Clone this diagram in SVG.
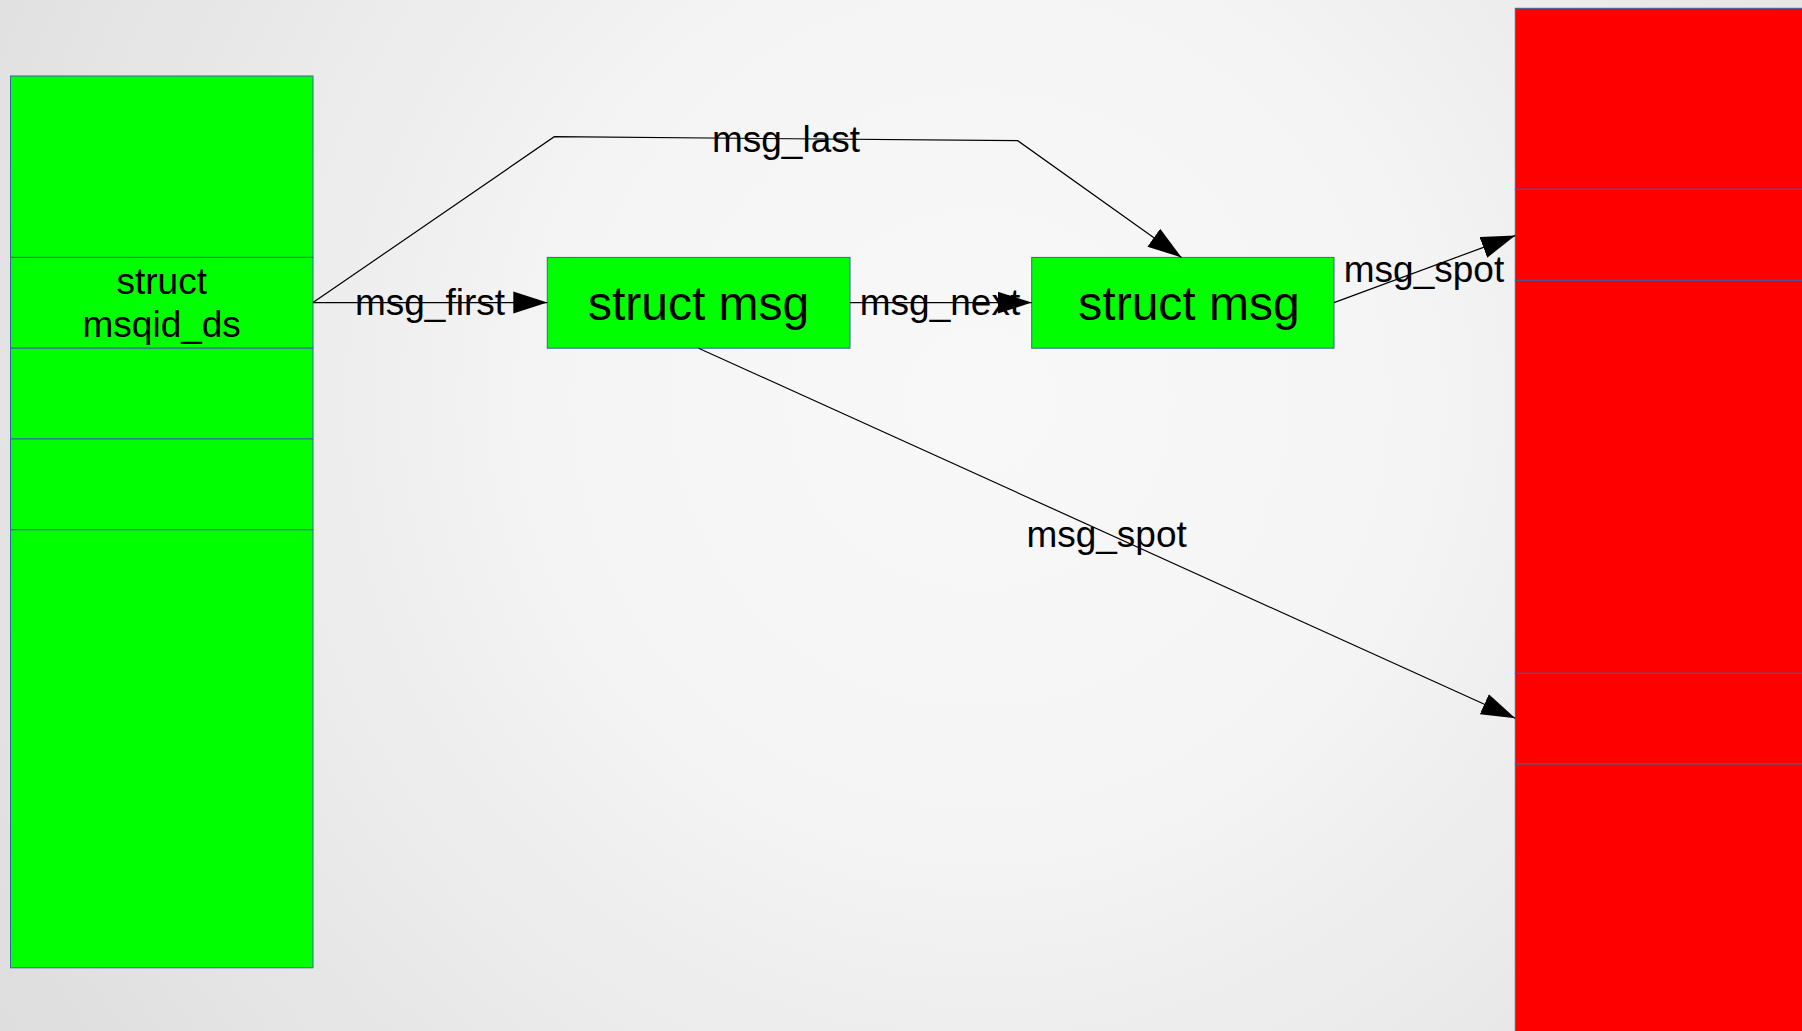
<svg xmlns="http://www.w3.org/2000/svg" width="1802" height="1031" viewBox="0 0 1802 1031">
  <defs>
    <radialGradient id="bg" gradientUnits="userSpaceOnUse" cx="980" cy="400" r="1150">
      <stop offset="0" stop-color="#f8f8f8"/>
      <stop offset="0.35" stop-color="#f5f5f5"/>
      <stop offset="1" stop-color="#dedede"/>
    </radialGradient>
    <marker id="arrow" markerUnits="userSpaceOnUse" markerWidth="35" markerHeight="23" refX="34" refY="11" orient="auto" viewBox="0 0 35 22">
      <path d="M0,0 L34,11 L0,22 z" fill="#000"/>
    </marker>
    <style>
      .cell { stroke: #3465a4; stroke-width: 1; }
      .green { fill: #00ff00; }
      .red { fill: #ff0000; }
      .conn { fill: none; stroke: #000; stroke-width: 1.2; }
      .lbl { font-family: "Liberation Sans", Arial, sans-serif; font-size: 37px; fill: #000; text-anchor: middle; }
      .big { font-family: "Liberation Sans", Arial, sans-serif; font-size: 48px; fill: #000; text-anchor: middle; }
    </style>
  </defs>
  <rect x="0" y="0" width="1802" height="1031" fill="url(#bg)"/>

  <g id="msqid_ds">
    <rect class="cell green" x="10.5" y="76" width="302.5" height="181.4"/>
    <rect class="cell green" x="10.5" y="257.4" width="302.5" height="90.8"/>
    <rect class="cell green" x="10.5" y="348.2" width="302.5" height="90.8"/>
    <rect class="cell green" x="10.5" y="439" width="302.5" height="90.8"/>
    <rect class="cell green" x="10.5" y="529.8" width="302.5" height="438"/>
    <text class="lbl" x="161.7" y="294.3">struct</text>
    <text class="lbl" x="161.7" y="336.7">msqid_ds</text>
  </g>

  <g id="msg1">
    <rect class="cell green" x="547.3" y="257.4" width="302.7" height="90.8"/>
    <text class="big" x="698.6" y="320">struct msg</text>
  </g>

  <g id="msg2">
    <rect class="cell green" x="1031.7" y="257.4" width="302.3" height="90.8"/>
    <text class="big" x="1189" y="320">struct msg</text>
  </g>

  <g id="memory">
    <rect class="cell red" x="1515.3" y="8.3" width="300" height="181"/>
    <rect class="cell red" x="1515.3" y="189.3" width="300" height="91"/>
    <rect class="cell red" x="1515.3" y="280.3" width="300" height="393"/>
    <rect class="cell red" x="1515.3" y="673.3" width="300" height="90.7"/>
    <rect class="cell red" x="1515.3" y="764" width="300" height="300"/>
  </g>

  <g id="connectors">
    <path class="conn" d="M313,302.6 L547.3,302.6" marker-end="url(#arrow)"/>
    <path class="conn" d="M313,302.6 L554.3,136.7 L1017.7,140.7 L1181.5,257.4" marker-end="url(#arrow)"/>
    <path class="conn" d="M850,302.6 L1031.7,302.6" marker-end="url(#arrow)"/>
    <path class="conn" d="M1334,302.6 L1515.3,235.6" marker-end="url(#arrow)"/>
    <path class="conn" d="M698.6,348.2 L1515.3,718.3" marker-end="url(#arrow)"/>
    <text class="lbl" x="430" y="315.3">msg_first</text>
    <text class="lbl" x="786" y="151.7">msg_last</text>
    <text class="lbl" x="940" y="315.3">msg_next</text>
    <text class="lbl" x="1424" y="281.7">msg_spot</text>
    <text class="lbl" x="1106.6" y="546.5">msg_spot</text>
  </g>
</svg>
